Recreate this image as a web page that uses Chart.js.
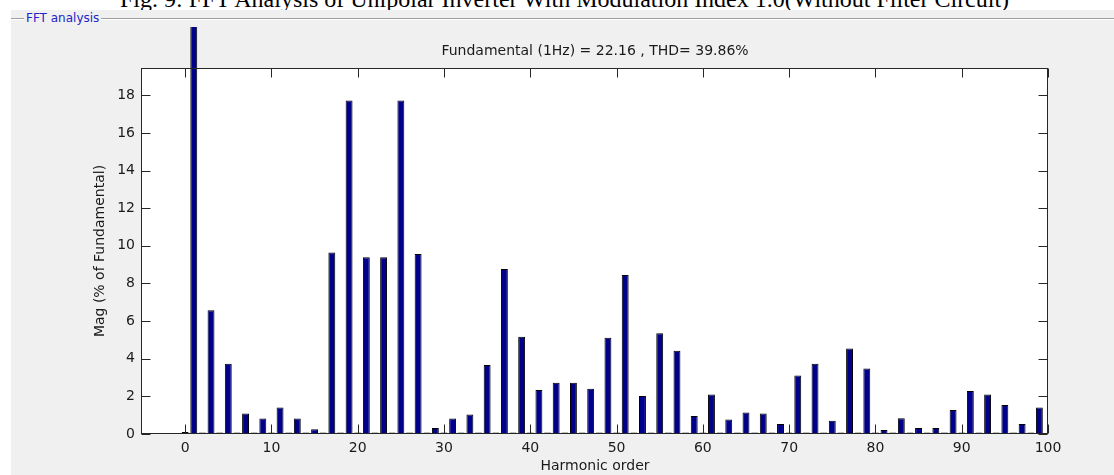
<!DOCTYPE html>
<html>
<head>
<meta charset="utf-8">
<script src="https://cdn.jsdelivr.net/npm/chart.js@4.4.1/dist/chart.umd.min.js"></script>
<style>
  html, body { margin: 0; padding: 0; }
  body { width: 1114px; height: 475px; overflow: hidden; background: #ffffff; position: relative; }
  #caption {
    position: absolute; left: 120px; top: -13px; white-space: nowrap;
    font: 24px/24px "Liberation Serif", "Times New Roman", serif; color: #000;
  }
  #panel { position: absolute; left: 11px; top: 10px; right: 0; bottom: 0; background: #f0f0f0; }
  #rule { position: absolute; left: 11px; right: 0; top: 18px; height: 1px; background: #a0a0a0; border-bottom: 1px solid #ffffff; }
  #panelTitle {
    position: absolute; left: 24px; top: 10px; padding: 0 2px; background: #f0f0f0;
    font: 12px/16px "DejaVu Sans", Arial, sans-serif; color: #2424c8;
  }
  #chart { position: absolute; left: 0; top: 0; }
</style>
</head>
<body>
<div id="caption">Fig. 9: FFT Analysis of Unipolar Inverter With Modulation Index 1.0(Without Filter Circuit)</div>
<div id="panel"></div>
<div id="rule"></div>
<div id="panelTitle">FFT analysis</div>
<canvas id="chart" width="1114" height="475"></canvas>
<script>
// harmonic order (x) and magnitude in % of fundamental (y)
const harmonicOrder = [
  0, 1, 2, 3, 4, 5, 6, 7, 8, 9,
  10, 11, 12, 13, 14, 15, 16, 17, 18, 19,
  20, 21, 22, 23, 24, 25, 26, 27, 28, 29,
  30, 31, 32, 33, 34, 35, 36, 37, 38, 39,
  40, 41, 42, 43, 44, 45, 46, 47, 48, 49,
  50, 51, 52, 53, 54, 55, 56, 57, 58, 59,
  60, 61, 62, 63, 64, 65, 66, 67, 68, 69,
  70, 71, 72, 73, 74, 75, 76, 77, 78, 79,
  80, 81, 82, 83, 84, 85, 86, 87, 88, 89,
  90, 91, 92, 93, 94, 95, 96, 97, 98, 99
];
const magnitude = [
  0.10, 100, 0.08, 6.57, 0.08, 3.73, 0.08, 1.09, 0.08, 0.82,
  0.08, 1.41, 0.08, 0.82, 0.08, 0.25, 0.08, 9.64, 0.08, 17.72,
  0.08, 9.39, 0.08, 9.39, 0.08, 17.72, 0.08, 9.57, 0.08, 0.32,
  0.08, 0.82, 0.08, 1.03, 0.08, 3.67, 0.08, 8.77, 0.08, 5.17,
  0.08, 2.34, 0.08, 2.72, 0.08, 2.72, 0.08, 2.40, 0.08, 5.11,
  0.08, 8.45, 0.08, 2.02, 0.08, 5.36, 0.08, 4.42, 0.08, 0.96,
  0.08, 2.10, 0.08, 0.77, 0.08, 1.14, 0.08, 1.09, 0.08, 0.53,
  0.08, 3.11, 0.08, 3.73, 0.08, 0.71, 0.08, 4.55, 0.08, 3.48,
  0.08, 0.21, 0.08, 0.84, 0.08, 0.32, 0.08, 0.32, 0.08, 1.28,
  0.08, 2.29, 0.08, 2.10, 0.08, 1.54, 0.08, 0.53, 0.08, 1.41
];
const xTicks = [0, 10, 20, 30, 40, 50, 60, 70, 80, 90, 100];
const yTicks = [0, 2, 4, 6, 8, 10, 12, 14, 16, 18];

const titleText = 'Fundamental (1Hz) = 22.16 , THD= 39.86%';
const xTitle = 'Harmonic order';
const yTitle = 'Mag (% of Fundamental)';

const AXIS_COLOR = '#262626';
const TEXT_COLOR = '#1a1a1a';
const BAR_FILL = '#00008b';
const TICK_LEN = 9;

Chart.defaults.font.family = '"DejaVu Sans", Arial, sans-serif';
Chart.defaults.font.size = 14;
Chart.defaults.color = TEXT_COLOR;

// white plot box, dark frame and MATLAB style inward ticks on all four sides
const matlabAxes = {
  id: 'matlabAxes',
  beforeDraw(chart) {
    const { ctx, chartArea: a } = chart;
    ctx.save();
    ctx.fillStyle = '#ffffff';
    ctx.fillRect(a.left, a.top, a.right - a.left, a.bottom - a.top);
    ctx.restore();
  },
  afterDraw(chart) {
    const { ctx, chartArea: a, scales: { x, y } } = chart;
    const l = Math.round(a.left) - 0.5, r = Math.round(a.right) - 0.5;
    const t = Math.round(a.top) + 0.5, b = Math.round(a.bottom) - 0.5;
    ctx.save();
    ctx.strokeStyle = AXIS_COLOR;
    ctx.lineWidth = 1;
    ctx.beginPath();
    xTicks.forEach(v => {
      const px = Math.round(x.getPixelForValue(v)) + 0.5;
      ctx.moveTo(px, b); ctx.lineTo(px, b - TICK_LEN);
      ctx.moveTo(px, t); ctx.lineTo(px, t + TICK_LEN);
    });
    yTicks.forEach(v => {
      const py = Math.round(y.getPixelForValue(v)) + 0.5;
      ctx.moveTo(l, py); ctx.lineTo(l + TICK_LEN, py);
      ctx.moveTo(r, py); ctx.lineTo(r - TICK_LEN, py);
    });
    ctx.stroke();
    ctx.strokeRect(l, t, r - l, b - t);
    ctx.restore();
  }
};

new Chart(document.getElementById('chart'), {
  type: 'bar',
  data: {
    datasets: [{
      data: harmonicOrder.map((h, i) => ({ x: h, y: magnitude[i] })),
      backgroundColor: BAR_FILL,
      borderColor: '#000000',
      borderWidth: 1,
      borderSkipped: false,
      categoryPercentage: 1,
      barPercentage: 0.8,
      clip: { left: 0, top: 41, right: 0, bottom: 0 }
    }]
  },
  plugins: [matlabAxes],
  options: {
    responsive: false,
    animation: false,
    layout: { padding: { left: 0, right: 66, top: 0, bottom: 0 } },
    plugins: {
      legend: { display: false },
      tooltip: { enabled: false },
      title: {
        display: true,
        text: titleText,
        fullSize: false,
        color: TEXT_COLOR,
        font: { size: 14, weight: 'normal' },
        padding: { top: 43.4, bottom: 7.8 }
      }
    },
    scales: {
      x: {
        type: 'linear',
        min: -5,
        max: 100,
        offset: false,
        grid: { display: false, drawTicks: false },
        border: { display: false },
        afterBuildTicks: s => { s.ticks = xTicks.map(v => ({ value: v })); },
        afterFit: s => { s.height = 41; },
        ticks: { padding: 5.5, autoSkip: false, maxRotation: 0, color: TEXT_COLOR },
        title: { display: true, text: xTitle, color: TEXT_COLOR, font: { size: 14 }, padding: { top: 0, bottom: 0 } }
      },
      y: {
        min: 0,
        max: 19.45,
        grid: { display: false, drawTicks: false },
        border: { display: false },
        afterBuildTicks: s => { s.ticks = yTicks.map(v => ({ value: v })); },
        afterFit: s => { s.width = 142; },
        ticks: { padding: 7, autoSkip: false, color: TEXT_COLOR },
        title: { display: true, text: yTitle, color: TEXT_COLOR, font: { size: 14 }, padding: { top: 92.3, bottom: 0 } }
      }
    }
  }
});
</script>
</body>
</html>
